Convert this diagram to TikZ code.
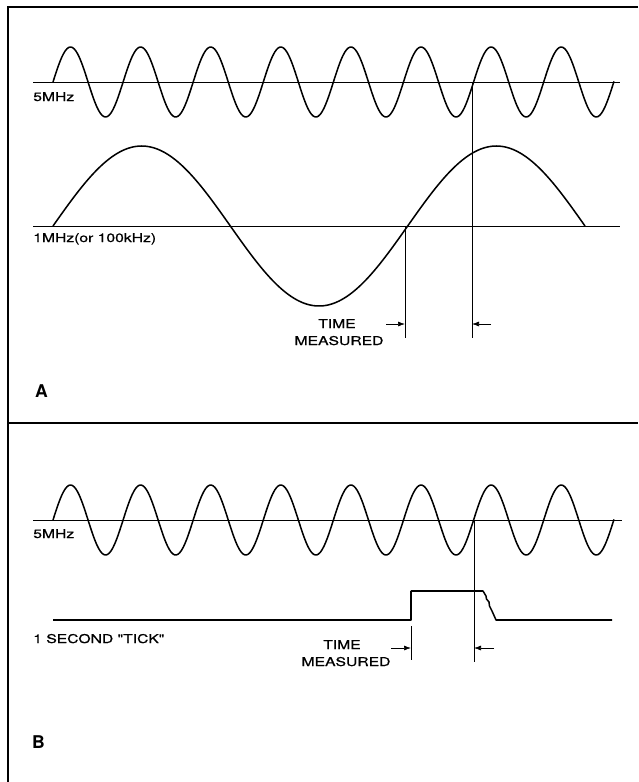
\documentclass[tikz,border=0pt]{standalone}
\usepackage{fontspec}
\setmainfont{TeX Gyre Heros}
\newfontfamily\letterfont[FakeStretch=1.3,FakeBold=0.8]{TeX Gyre Heros}
\usetikzlibrary{arrows.meta,positioning,calc}

\begin{document}
\begin{tikzpicture}[
  x=0.03cm, y=-0.03cm,
  >={Latex[length=2.1mm,width=1.5mm]},
  wave/.style={line width=1.3pt, line join=round},
  axisline/.style={line width=0.65pt},
  guide/.style={line width=0.6pt},
  frameline/.style={line width=2pt},
  lbl/.style={anchor=base west, inner sep=0pt, font=\letterfont\fontsize{10.3}{12}\selectfont},
  caption/.style={anchor=base, inner sep=0pt, font=\letterfont\fontsize{10.3}{12}\selectfont},
  panel/.style={anchor=base west, inner sep=0pt, font=\bfseries\fontsize{15}{17}\selectfont},
]
\useasboundingbox (0,0) rectangle (638,782);

% 5MHz wave: #1 = axis y, from x=53 over 8 periods (period 70.1)
\newcommand{\fastwave}[1]{\draw[wave] plot[domain=53:614,samples=320,smooth]
  (\x,{#1-35*sin(5.1355*(\x-53))});}

% ---- frame ----
\draw[frameline] (638,7) -- (8,7) -- (8,782);
\draw[frameline] (8,423) -- (638,423);

% ---- panel A ----
\draw[axisline] (33,82) -- (620,82);
\fastwave{82}
\node[lbl] (a5) at (33,101) {5MHz};

\draw[axisline] (33,226) -- (620,226);
\draw[wave] plot[domain=53:585,samples=200,smooth]
  (\x,{226-80*sin(1.01503*(\x-53))});
\node[lbl] (a1) at (33,242) {1MHz(or 100kHz)};

\coordinate (aLtop) at (405,226);  \coordinate (aLbot) at (405,338);
\coordinate (aRtop) at (472,82);   \coordinate (aRbot) at (472,338);
\draw[guide] (aLtop) -- (aLbot);
\draw[guide] (aRtop) -- (aRbot);
\coordinate (aLarr) at (405,324);  \coordinate (aRarr) at (472,324);
\draw[guide,->] ($(aLarr)+(-19,0)$) -- (aLarr);
\draw[guide,->] ($(aRarr)+(19,0)$) -- (aRarr);
\node[caption] (aT) at (337,328) {TIME};
\node[caption] (aM) at (339,345) {MEASURED};

\node[panel] (pA) at (35,397) {A};

% ---- panel B ----
\draw[axisline] (33,520) -- (622,520);
\fastwave{520}
\node[lbl] (b5) at (33,538) {5MHz};

\draw[wave] (53,620) -- (411,620) -- (411,591) -- (483,591)
  -- (486,596) -- (486.5,599) -- (489,602) -- (489.5,606) -- (492,611)
  -- (496,620) -- (612,620);
\node[lbl] (b1) at (33,643) {1 SECOND "TICK"};

\coordinate (bLtop) at (411,626);  \coordinate (bLbot) at (411,660);
\coordinate (bRtop) at (474,520);  \coordinate (bRbot) at (474,662);
\draw[guide] (bLtop) -- (bLbot);
\draw[guide] (bRtop) -- (bRbot);
\coordinate (bLarr) at (411,648);  \coordinate (bRarr) at (474,648);
\draw[guide,->] ($(bLarr)+(-20,0)$) -- (bLarr);
\draw[guide,->] ($(bRarr)+(20,0)$) -- (bRarr);
\node[caption] (bT) at (342,649) {TIME};
\node[caption] (bM) at (346,666) {MEASURED};

\node[panel] (pB) at (32,748) {B};

\end{tikzpicture}
\end{document}
